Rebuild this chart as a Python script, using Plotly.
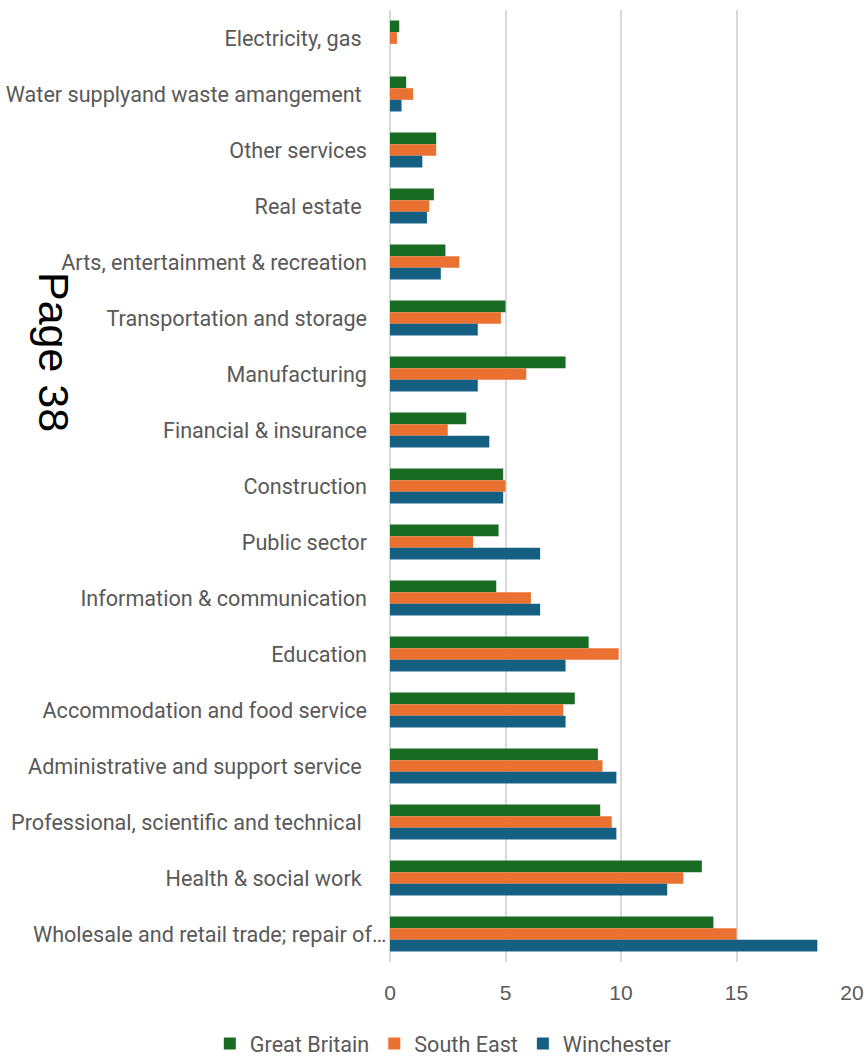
import plotly.graph_objects as go

# Industry sectors, listed top to bottom
categories = [
    "Electricity, gas\u00a0",
    "Water supplyand waste amangement\u00a0",
    "Other services",
    "Real estate\u00a0",
    "Arts, entertainment & recreation",
    "Transportation and storage",
    "Manufacturing",
    "Financial & insurance",
    "Construction",
    "Public sector",
    "Information & communication",
    "Education",
    "Accommodation and food service",
    "Administrative and support service\u00a0",
    "Professional, scientific and technical\u00a0",
    "Health & social work\u00a0",
    "Wholesale and retail trade; repair of…",
]

great_britain = [0.4, 0.7, 2.0, 1.9, 2.4, 5.0, 7.6, 3.3, 4.9, 4.7, 4.6, 8.6, 8.0, 9.0, 9.1, 13.5, 14.0]
south_east = [0.3, 1.0, 2.0, 1.7, 3.0, 4.8, 5.9, 2.5, 5.0, 3.6, 6.1, 9.9, 7.5, 9.2, 9.6, 12.7, 15.0]
winchester = [0.0, 0.5, 1.4, 1.6, 2.2, 3.8, 3.8, 4.3, 4.9, 6.5, 6.5, 7.6, 7.6, 9.8, 9.8, 12.0, 18.5]

x_ticks = [0, 5, 10, 15, 20]

series = [
    ("Great Britain", great_britain, "#196B24"),
    ("South East", south_east, "#E97132"),
    ("Winchester", winchester, "#156082"),
]

FONT = "Roboto, Arial, sans-serif"
LABEL_SIZE = 21.6
GREY = "#595959"

# The truncated last label overhangs the label column, so it is placed on its own
overhang = categories[-1]
tick_text = [c if c != overhang else "" for c in categories]

fig = go.Figure()
for name, values, color in series:
    fig.add_trace(go.Bar(
        y=categories, x=values, name=name, orientation="h",
        marker=dict(color=color, line=dict(width=0)),
    ))

fig.update_layout(
    width=867, height=1056,
    margin=dict(l=390, r=15, t=10, b=94, autoexpand=False),
    paper_bgcolor="white", plot_bgcolor="white",
    barmode="group", bargap=0.375, bargroupgap=0,
    font=dict(family=FONT, color=GREY, size=LABEL_SIZE),
    showlegend=True,
    legend=dict(
        orientation="h", xref="paper", yref="paper",
        x=-0.39, y=-0.0861, xanchor="left", yanchor="middle",
        font=dict(family=FONT, size=LABEL_SIZE, color=GREY),
        traceorder="normal", itemwidth=30,
    ),
    xaxis=dict(
        range=[0, 20], tickvals=x_ticks, ticktext=[str(v) for v in x_ticks],
        showgrid=True, gridcolor="#d9d9d9", gridwidth=2,
        zeroline=True, zerolinecolor="#d9d9d9", zerolinewidth=2,
        showline=False, ticks="", ticklabelstandoff=16, automargin=False,
        tickfont=dict(family="Liberation Sans, Arial, sans-serif", size=21, color=GREY),
    ),
    yaxis=dict(
        categoryorder="array", categoryarray=categories,
        tickvals=categories, ticktext=tick_text,
        autorange="reversed", showgrid=False, zeroline=False,
        ticks="", ticklabelstandoff=22, automargin=False,
        tickfont=dict(family=FONT, size=LABEL_SIZE, color=GREY),
    ),
    annotations=[
        dict(
            text=overhang, xref="x", yref="y", x=0, y=overhang,
            xanchor="right", yanchor="middle", xshift=-2, showarrow=False,
            font=dict(family=FONT, size=LABEL_SIZE, color=GREY),
        ),
        dict(
            text="Page 38", xref="paper", yref="paper",
            x=-0.784, y=0.641, showarrow=False, textangle=90,
            font=dict(family="Liberation Sans, Arial, sans-serif", size=43, color="black"),
        ),
    ],
)

fig.write_html("out.html")
